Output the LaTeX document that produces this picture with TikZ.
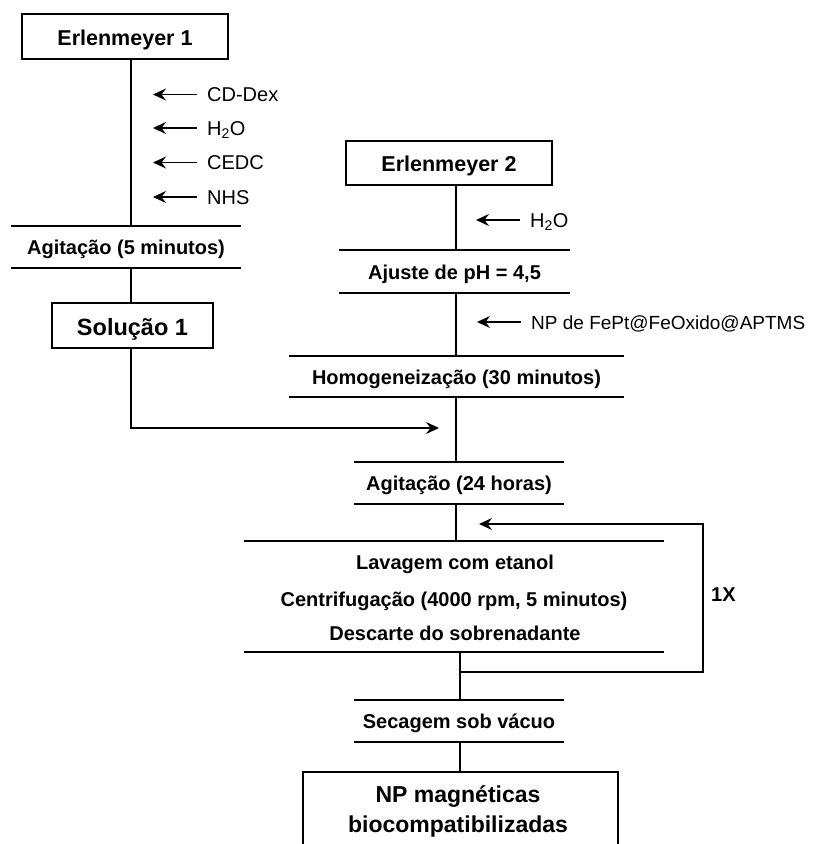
\documentclass[tikz,border=0pt]{standalone}
\usepackage{fontspec}
\setmainfont{Liberation Sans}
\usetikzlibrary{arrows.meta,calc}
\begin{document}
\begin{tikzpicture}[x=1pt,y=-1pt,
  rule/.style={line width=1.7pt},
  arr/.style={rule,-{Stealth[length=13pt,width=12pt,inset=4.5pt]}},
  framebox/.style={draw,rule,inner sep=0pt,text height=#1,text depth=0pt},
  stage/.style={inner sep=0pt,font=\fontsize{20}{24}\selectfont\bfseries,text height=15.5pt,text depth=0pt},
  reag/.style={anchor=base west,inner sep=0pt,font=\fontsize{20}{24}\selectfont},
  boxfont/.style={font=\fontsize{21.5}{26}\selectfont\bfseries},
  finfont/.style={anchor=base,inner sep=0pt,font=\fontsize{23}{28}\selectfont\bfseries},
]
\useasboundingbox (0,0) rectangle (823,844);
\clip (0,0) rectangle (823,844);

% left branch
\node[framebox=17pt,boxfont,minimum width=206pt,minimum height=45pt] (e1) at (125,36.5) {Erlenmeyer 1};
\node[reag] (cddex) at (207,101.5) {CD-Dex};
\node[reag] (h2oa) at (207,135) {H\textsubscript{2}O};
\node[reag] (cedc) at (207,169.5) {CEDC};
\node[reag] (nhs) at (207,204) {NHS};
\node[stage,minimum width=230pt,minimum height=42pt] (ag5) at (126,247) {Agitação (5 minutos)};
\node[framebox=19pt,font=\fontsize{23.5}{28}\selectfont\bfseries,minimum width=161pt,minimum height=45pt] (sol) at (132.5,325.5) {Solução 1};

% right branch
\node[framebox=17pt,boxfont,minimum width=206pt,minimum height=44pt] (e2) at (449,163) {Erlenmeyer 2};
\node[reag] (h2ob) at (530,227) {H\textsubscript{2}O};
\node[stage,minimum width=231pt,minimum height=43pt] (ajuste) at (454.5,271.5) {Ajuste de pH = 4,5};
\node[reag,font=\fontsize{19}{23}\selectfont] (np) at (531,329) {NP de FePt@FeOxido@APTMS};
\node[stage,minimum width=335pt,minimum height=41pt] (homog) at (456.5,376.5) {Homogeneização (30 minutos)};

% common steps
\node[stage,minimum width=210pt,minimum height=42pt] (ag24) at (459,483) {Agitação (24 horas)};
\node[stage,minimum width=420pt,minimum height=111pt,text height=19pt] (lav) at (454,596.5) {Centrifugação (4000 rpm, 5 minutos)};
\node[stage,anchor=base] (lav1) at (455,569) {Lavagem com etanol};
\node[stage,anchor=base] (lav3) at (455,640) {Descarte do sobrenadante};
\node[stage,anchor=base west] (rep) at (711,601) {1X};
\node[stage,minimum width=210pt,minimum height=42pt] (sec) at (459,721) {Secagem sob vácuo};
\node[draw,rule,minimum width=315pt,minimum height=100pt,anchor=north,inner sep=0pt] (fin) at (460.2,771) {};
\node[finfont] (fin1) at (458,802) {NP magnéticas};
\node[finfont] (fin2) at (458,832) {biocompatibilizadas};

% horizontal rules above and below each step
\foreach \n in {ag5,ajuste,homog,ag24,lav,sec}
  \draw[rule] (\n.north west) -- (\n.north east) (\n.south west) -- (\n.south east);

% flow lines
\coordinate (xa) at (131,0);
\coordinate (xb) at (456,0);
\coordinate (xc) at (460,0);
\coordinate (merge) at (439,428);
\coordinate (loopR) at (703,672);
\coordinate (loopTip) at (479,524);

\draw[rule] (e1.south -| xa) -- (ag5.north -| xa);
\draw[rule] (ag5.south -| xa) -- (sol.north -| xa);
\draw[arr] (sol.south -| xa) |- (merge);
\draw[rule] (e2.south -| xb) -- (ajuste.north -| xb);
\draw[rule] (ajuste.south -| xb) -- (homog.north -| xb);
\draw[rule] (homog.south -| xb) -- (ag24.north -| xb);
\draw[rule] (ag24.south -| xb) -- (lav.north -| xb);
\draw[rule] (lav.south -| xc) -- (sec.north -| xc);
\draw[rule] (sec.south -| xc) -- (fin.north -| xc);
\draw[arr] (loopR -| xc) -- (loopR) |- (loopTip);

% reagent additions
\foreach \n in {cddex,h2oa,cedc,nhs,h2ob,np}
  \draw[arr] ([xshift=-10pt,yshift=7pt]\n.base west) -- ([xshift=-54pt,yshift=7pt]\n.base west);
\end{tikzpicture}
\end{document}
